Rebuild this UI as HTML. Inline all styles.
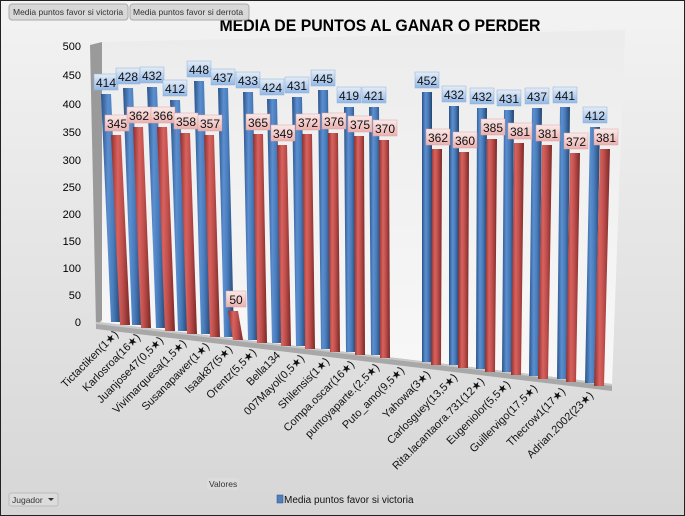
<!DOCTYPE html>
<html><head><meta charset="utf-8"><style>
html,body{margin:0;padding:0;width:685px;height:516px;overflow:hidden}
svg{display:block;font-family:"Liberation Sans",sans-serif}
</style></head><body>
<svg width="685" height="516" viewBox="0 0 685 516">
<defs>
<linearGradient id="bg" x1="0" y1="0" x2="0" y2="1"><stop offset="0" stop-color="#f3f3f3"/><stop offset="1" stop-color="#d6d6d6"/></linearGradient>
<linearGradient id="wall" x1="0" y1="0" x2="0" y2="1"><stop offset="0" stop-color="#ececec"/><stop offset="1" stop-color="#f8f8f8"/></linearGradient>
<linearGradient id="gb" x1="0" y1="0" x2="1" y2="0"><stop offset="0" stop-color="#2c5288"/><stop offset="0.35" stop-color="#5b8fd0"/><stop offset="0.6" stop-color="#4a7dbd"/><stop offset="1" stop-color="#23456f"/></linearGradient>
<linearGradient id="gr" x1="0" y1="0" x2="1" y2="0"><stop offset="0" stop-color="#8e2f2c"/><stop offset="0.35" stop-color="#d8625e"/><stop offset="0.6" stop-color="#c0504d"/><stop offset="1" stop-color="#7a2826"/></linearGradient>
<linearGradient id="lb" x1="0" y1="0" x2="0" y2="1"><stop offset="0" stop-color="#e4edf8"/><stop offset="1" stop-color="#93b8e6"/></linearGradient>
<linearGradient id="lr" x1="0" y1="0" x2="0" y2="1"><stop offset="0" stop-color="#fbeaea"/><stop offset="1" stop-color="#eab0ae"/></linearGradient>
</defs>
<rect x="0.5" y="0.5" width="684" height="515" fill="url(#bg)" stroke="#222"/>
<polygon points="102,42 625,30 612,385 102,322" fill="url(#wall)"/>
<polygon points="90,45 102,42 102,320 96,326" fill="#9a9a9a"/>
<polygon points="96,322 612,384 612,391 96,329" fill="#a8a8a8"/>
<polygon points="96,322 612,384 612,386 96,324" fill="#c8c8c8"/>

<g font-size="11" fill="#000" text-anchor="end">
<text x="81" y="50">500</text><text x="81" y="79">450</text><text x="81" y="108">400</text><text x="81" y="136">350</text><text x="81" y="164">300</text><text x="81" y="191">250</text><text x="81" y="218">200</text><text x="81" y="245">150</text><text x="81" y="272">100</text><text x="81" y="299">50</text><text x="81" y="326">0</text>
</g>

<text x="380" y="31" font-size="17" font-weight="bold" text-anchor="middle" textLength="321" lengthAdjust="spacingAndGlyphs">MEDIA DE PUNTOS AL GANAR O PERDER</text>

<g id="bars">
<!-- each: blue then red -->
<polygon points="101,94 111,94 121,322 111,322" fill="url(#gb)"/><polygon points="111,135 121,135 130,325 120,325" fill="url(#gr)"/>
<polygon points="123,88 133,88 142,325 132,325" fill="url(#gb)"/><polygon points="133,127 143,127 151,328 141,328" fill="url(#gr)"/>
<polygon points="147,87 157,87 166,328 156,328" fill="url(#gb)"/><polygon points="157,127 167,127 175,331 165,331" fill="url(#gr)"/>
<polygon points="170,100 180,100 188,331 178,331" fill="url(#gb)"/><polygon points="180,133 190,133 197,334 187,334" fill="url(#gr)"/>
<polygon points="194,81 204,81 211,334 201,334" fill="url(#gb)"/><polygon points="204,135 214,135 220,337 210,337" fill="url(#gr)"/>
<polygon points="218,88 228,88 234,337 224,337" fill="url(#gb)"/><polygon points="228,311 238,311 243,340 233,340" fill="url(#gr)"/>
<polygon points="243,92 253,92 258,340 248,340" fill="url(#gb)"/><polygon points="253,134 263,134 267,343 257,343" fill="url(#gr)"/>
<polygon points="267,99 277,99 282,343 272,343" fill="url(#gb)"/><polygon points="277,145 287,145 291,346 281,346" fill="url(#gr)"/>
<polygon points="292,97 302,97 306,346 296,346" fill="url(#gb)"/><polygon points="302,134 312,134 315,349 305,349" fill="url(#gr)"/>
<polygon points="318,90 328,90 331,349 321,349" fill="url(#gb)"/><polygon points="328,133 338,133 340,352 330,352" fill="url(#gr)"/>
<polygon points="344,107 354,107 356,352 346,352" fill="url(#gb)"/><polygon points="354,136 364,136 365,355 355,355" fill="url(#gr)"/>
<polygon points="369,107 379,107 381,355 371,355" fill="url(#gb)"/><polygon points="379,140 389,140 390,358 380,358" fill="url(#gr)"/>
<polygon points="422,92 432,92 432,362 422,362" fill="url(#gb)"/><polygon points="432,149 442,149 441,365 431,365" fill="url(#gr)"/>
<polygon points="449,106 459,106 459,365 449,365" fill="url(#gb)"/><polygon points="459,152 469,152 468,368 458,368" fill="url(#gr)"/>
<polygon points="477,108 487,108 486,369 476,369" fill="url(#gb)"/><polygon points="487,139 497,139 495,372 485,372" fill="url(#gr)"/>
<polygon points="504,110 514,110 512,372 502,372" fill="url(#gb)"/><polygon points="514,143 524,143 521,375 511,375" fill="url(#gr)"/>
<polygon points="532,108 542,108 539,376 529,376" fill="url(#gb)"/><polygon points="542,145 552,145 548,379 538,379" fill="url(#gr)"/>
<polygon points="560,107 570,107 567,379 557,379" fill="url(#gb)"/><polygon points="570,153 580,153 576,382 566,382" fill="url(#gr)"/>
<polygon points="590,127 600,127 595,383 585,383" fill="url(#gb)"/><polygon points="600,149 610,149 604,386 594,386" fill="url(#gr)"/>
</g>

<g font-size="12" text-anchor="middle" fill="#111">
<g fill="url(#lr)" stroke="#d9a5a3" stroke-width="0.5">
<rect x="105" y="115" width="24" height="16"/><rect x="127" y="107" width="24" height="16"/><rect x="151" y="107" width="24" height="16"/><rect x="174" y="113" width="24" height="16"/><rect x="198" y="115" width="24" height="16"/><rect x="226" y="291" width="20" height="16"/><rect x="246" y="114" width="24" height="16"/><rect x="271" y="125" width="24" height="16"/><rect x="296" y="114" width="24" height="16"/><rect x="322" y="113" width="24" height="16"/><rect x="348" y="116" width="24" height="16"/><rect x="373" y="120" width="24" height="16"/><rect x="426" y="129" width="24" height="16"/><rect x="453" y="132" width="24" height="16"/><rect x="481" y="119" width="24" height="16"/><rect x="508" y="123" width="24" height="16"/><rect x="536" y="125" width="24" height="16"/><rect x="564" y="133" width="24" height="16"/><rect x="594" y="129" width="24" height="16"/>
</g>
<text x="117" y="128">345</text><text x="139" y="120">362</text><text x="163" y="120">366</text><text x="186" y="126">358</text><text x="210" y="128">357</text><text x="236" y="304">50</text><text x="258" y="127">365</text><text x="283" y="138">349</text><text x="308" y="127">372</text><text x="334" y="126">376</text><text x="360" y="129">375</text><text x="385" y="133">370</text><text x="438" y="142">362</text><text x="465" y="145">360</text><text x="493" y="132">385</text><text x="520" y="136">381</text><text x="548" y="138">381</text><text x="576" y="146">372</text><text x="606" y="142">381</text>
<g fill="url(#lb)" stroke="#8fb0d8" stroke-width="0.5">
<rect x="94" y="74" width="24" height="16"/><rect x="116" y="68" width="24" height="16"/><rect x="140" y="67" width="24" height="16"/><rect x="163" y="80" width="24" height="16"/><rect x="187" y="61" width="24" height="16"/><rect x="211" y="69" width="24" height="16"/><rect x="236" y="72" width="24" height="16"/><rect x="260" y="79" width="24" height="16"/><rect x="285" y="77" width="24" height="16"/><rect x="311" y="70" width="24" height="16"/><rect x="337" y="87" width="24" height="16"/><rect x="362" y="87" width="24" height="16"/><rect x="415" y="72" width="24" height="16"/><rect x="442" y="86" width="24" height="16"/><rect x="470" y="88" width="24" height="16"/><rect x="497" y="90" width="24" height="16"/><rect x="525" y="88" width="24" height="16"/><rect x="553" y="87" width="24" height="16"/><rect x="583" y="107" width="24" height="16"/>
</g>
<text x="106" y="87">414</text><text x="128" y="81">428</text><text x="152" y="80">432</text><text x="175" y="93">412</text><text x="199" y="74">448</text><text x="223" y="82">437</text><text x="248" y="85">433</text><text x="272" y="92">424</text><text x="297" y="90">431</text><text x="323" y="83">445</text><text x="349" y="100">419</text><text x="374" y="100">421</text><text x="427" y="85">452</text><text x="454" y="99">432</text><text x="482" y="101">432</text><text x="509" y="103">431</text><text x="537" y="101">437</text><text x="565" y="100">441</text><text x="595" y="120">412</text>
</g>

<g font-size="11" text-anchor="end" fill="#111">
<text transform="translate(119,335) rotate(-45)">Tictactiken(1★)</text>
<text transform="translate(141,338) rotate(-45)">Karlosroa(16★)</text>
<text transform="translate(164,341) rotate(-45)">Juanjose47(0,5★)</text>
<text transform="translate(187,344) rotate(-45)">Vivimarquesa(1,5★)</text>
<text transform="translate(210,347) rotate(-45)">Susanapawer(1★)</text>
<text transform="translate(233,350) rotate(-45)">Isaak87(5★)</text>
<text transform="translate(257,353) rotate(-45)">Orentz(5,5★)</text>
<text transform="translate(281,356) rotate(-45)">Bella134</text>
<text transform="translate(305,359) rotate(-45)">007Mayol(0,5★)</text>
<text transform="translate(330,362) rotate(-45)">Shilensis(1★)</text>
<text transform="translate(355,365) rotate(-45)">Compa.oscar(16★)</text>
<text transform="translate(380,368) rotate(-45)">puntoyaparte.(2,5★)</text>
<text transform="translate(405,371) rotate(-45)">Puto_amo(9,5★)</text>
<text transform="translate(431,375) rotate(-45)">Yahowa(3★)</text>
<text transform="translate(458,378) rotate(-45)">Carlosguey(13,5★)</text>
<text transform="translate(485,382) rotate(-45)">Rita.lacantaora.731(12★)</text>
<text transform="translate(511,385) rotate(-45)">Eugeniolor(5,5★)</text>
<text transform="translate(538,389) rotate(-45)">Guillervigo(17,5★)</text>
<text transform="translate(566,392) rotate(-45)">Thecrow1(17★)</text>
<text transform="translate(594,396) rotate(-45)">Adrian.2002(23★)</text>
</g>

<g font-size="8.5" fill="#333">
<rect x="9" y="4" width="119" height="16" rx="3" fill="#d8d8d8" stroke="#aaa"/><text x="13" y="15">Media puntos favor si victoria</text>
<rect x="130" y="4" width="119" height="16" rx="3" fill="#d8d8d8" stroke="#aaa"/><text x="133" y="15">Media puntos favor si derrota</text>
<rect x="207" y="478" width="32" height="12" rx="2" fill="#dcdcdc"/><text x="209" y="487">Valores</text>
<rect x="9" y="493" width="49" height="13" rx="2" fill="#dcdcdc" stroke="#bbb"/><text x="12" y="503">Jugador</text>
<polygon points="48,498 54,498 51,501" fill="#333"/>
</g>
<rect x="277" y="495" width="6" height="8" fill="#4f81bd" stroke="#2c4f80" stroke-width="0.5"/>
<text x="284" y="503" font-size="10" fill="#111">Media puntos favor si victoria</text>
</svg>
</body></html>
